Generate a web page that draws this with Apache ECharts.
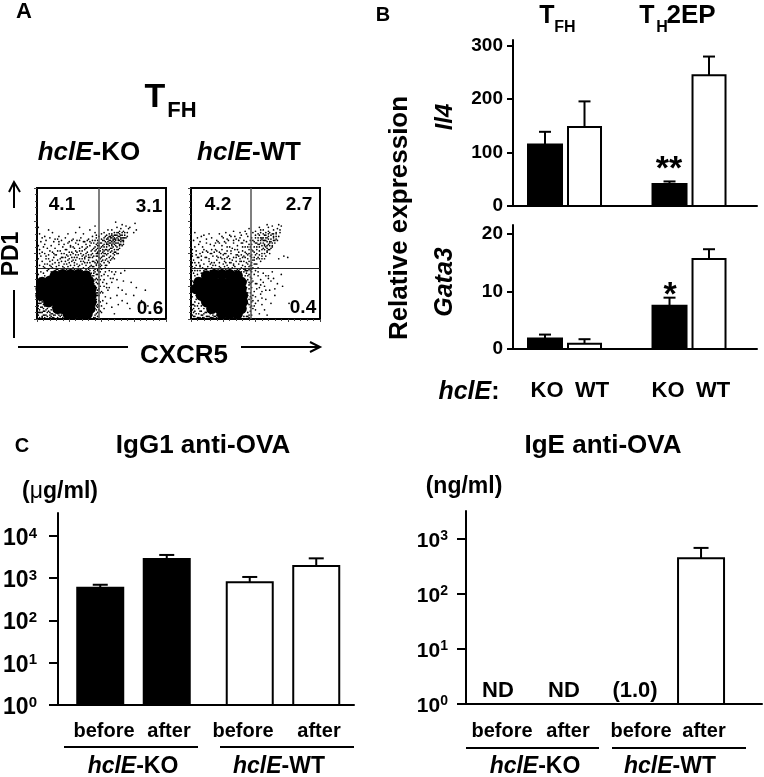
<!DOCTYPE html>
<html><head><meta charset="utf-8">
<style>html,body{margin:0;padding:0;background:#fff}#c{width:764px;height:777px}</style>
<script src="https://cdn.jsdelivr.net/npm/echarts@6/dist/echarts.min.js"></script>
</head><body><div id="c"></div>
<script>
// ---------- data ----------
const cellGroups = ['TFH', 'TH2EP'];
const genotypes = ['hclE-KO', 'hclE-WT'];
const il4KO = [115, 41], il4KOErr = [139, 46];
const il4WT = [148, 245], il4WTErr = [196, 280];
const gata3KO = [1.8, 7.5], gata3KOErr = [2.5, 8.9];
const gata3WT = [0.9, 15.6], gata3WTErr = [1.7, 17.3];
const igg1Before = [597, 800], igg1BeforeErr = [700, 1070];
const igg1After = [2850, 1950], igg1AfterErr = [3550, 2950];
const igeBeforeNotes = ['ND', '(1.0)'];
const igeAfterNotes = ['ND', null];
const igeAfter = [null, 441], igeAfterErr = [null, 677];
const il4Ticks = [0, 100, 200, 300];
const gata3Ticks = [0, 10, 20];
const igg1Ticks = [1, 10, 100, 1000, 10000];
const igeTicks = [1, 10, 100, 1000];
const koQuadrants = [47.7, 39], wtQuadrants = [46, 39];
const koPercents = ['4.1', '3.1', '0.6'], wtPercents = ['4.2', '2.7', '0.4'];

// flow plots: scale 0-100 on both channels (flat x,y lists). Core = solid event mass.
const koCore = [14,33,20,34,26,34,32,34,38,33, 4,28,10,29,16,29,22,29,28,29,34,29,40,29, 3,23,9,23,15,23,21,23,27,23,33,23,39,23,42,23, 3,18,9,18,15,18,21,18,27,18,33,18,39,18,42,18, 9,13,15,13,21,13,27,13,33,13,39,13,42,13, 16,8,20,8,26,8,32,8,38,8,41,8, 24,4,28,4,34,4,39,4];
const koDots = [
 1,3,2,7,3,12,1,15,4,2,5,6,6,10,7,3,8,8,9,13,10,5,11,2,12,9,13,6,14,3,15,11,16,1,17,5,3,17,5,14,7,16,2,22,1,27,2,31,1,34,3,36,5,35,6,33,8,37,
 1,10,2,14,4,9,6,1,8,5,10,1,12,4,14,8,16,4,18,2,20,1,21,4,23,1,4,5,9,10,11,7,7,12,13,1,19,3,1,20,1,24,3,28,2,5,6,6,5,3,
 42,3,44,6,43,10,45,13,44,17,46,20,43,22,45,25,44,29,46,31,43,33,45,36,47,34,42,35,40,36,38,35,36,36,33,36,30,36,27,37,24,36,21,37,18,36,14,37,11,36,
 46,4,47,9,48,14,47,18,48,23,47,27,49,30,46,10,45,3,42,7,41,1,38,2,36,1,44,1,47,2,49,6,48,18,49,25,50,33,49,36,51,28,50,21,44,33,45,8,46,15,47,22,48,32,
 2,41,5,40,8,42,11,40,14,43,17,41,20,40,23,42,26,41,29,43,32,40,35,42,38,41,41,43,44,40,46,42,4,44,7,46,10,44,13,47,16,45,19,47,22,44,25,46,28,45,31,47,34,44,37,46,40,45,43,47,46,45,
 3,48,6,50,9,49,12,51,15,49,18,52,21,50,24,48,27,51,30,49,33,52,36,49,39,51,42,49,45,52,47,48, 2,53,5,55,8,54,11,56,14,54,17,57,20,55,23,53,26,56,29,54,32,57,35,55,38,54,41,56,44,54,46,57,
 3,59,7,60,10,62,13,59,16,61,19,60,22,62,25,59,28,61,31,60,34,62,37,59,40,61,43,60,46,62, 2,65,6,63,12,66,17,63,24,65,30,66,36,65,41,68,45,66, 1,70,9,68,33,70,45,71,
 23,38,16,38,9,38,34,38,40,38,29,41,12,42,37,43,42,41,19,44,33,46,25,43,40,47,44,44,15,40,6,42,22,47,35,48,43,50,28,50,38,48,
 49,42,51,45,53,41,52,48,50,50,54,46,56,43,55,50,53,53,49,54,51,56,57,48,58,52,60,46,59,55,56,56,54,58,52,60,50,61,62,50,61,56,63,53,60,59,57,60,55,62,53,63,65,57,64,60,62,62,59,63,56,65,
 66,62,67,59,65,64,63,66,60,66,58,68,68,64,67,67,65,69,70,66,62,70,61,74,66,72,72,70,76,73,77,68,75,66,71,69,69,71,48,47,48,52,47,56,49,58,48,63,47,60,50,65,52,66,55,68,
 58,57,61,61,63,58,57,63,60,53,64,56,62,58,59,60,66,60,58,59,55,59,54,55,52,52,51,51,57,54,61,64,63,63,65,62,67,62,60,62,58,65,64,65,
 50,38,53,36,55,33,52,30,54,27,57,31,56,24,51,20,53,17,55,22,58,28,60,34,62,30,63,24,65,35,67,29,62,18,66,14,69,19,72,8,70,12,77,24,73,28,84,22,81,14,86,10,52,8,54,12,50,5,58,9,60,4,63,11,57,16,75,18,79,6,68,37,66,22,
 // second reading: denser zones
 8,37,12,39,17,37,21,39,26,38,31,37,36,39,41,37,45,38,10,41,15,38,19,37,24,40,28,39,33,41,38,38,43,40,47,37,6,39,13,36,22,36,29,38,35,37,40,39,44,37,
 17,43,21,42,27,44,31,42,36,44,41,40,45,43,24,45,30,45,35,46,39,43,43,44,47,43,12,45,18,46,23,49,27,47,32,49,37,47,41,47,46,48,9,46,14,49,20,47,26,49,
 30,52,34,50,38,50,42,52,44,48,47,51,29,47,33,54,37,53,40,49,43,53,46,50,22,53,25,51,28,55,31,51,35,52,39,55,42,58,45,55,47,54,19,50,16,52,13,50,10,52,7,48,
 24,58,27,60,33,60,38,57,41,59,44,58,47,58,46,64,43,63,39,60,36,59,30,58,26,55,21,57,17,59,14,61,6,57,4,51,1,46,2,50,1,56,4,62,
 48,41,50,44,52,43,54,41,49,46,51,48,53,45,55,44,57,45,59,47,48,50,50,47,52,50,54,49,56,47,58,46,60,49,49,52,51,53,53,50,55,52,57,51,59,50,61,51,63,50,
 50,55,52,55,54,53,56,53,58,54,60,51,62,53,64,54,48,56,50,58,52,57,54,57,56,58,58,56,60,57,62,55,64,57,66,56,51,60,53,59,55,57,57,58,59,58,61,58,63,60,65,59,
 67,57,55,61,57,62,59,61,61,60,63,61,65,61,67,60,69,62,52,62,54,61,56,63,58,62,60,61,62,64,64,63,66,64,68,62,70,63,54,64,56,60,58,64,60,64,62,66,64,67,66,66,68,66,
 47,44,49,40,46,41,48,39,50,41,53,39,47,50,46,53,45,60,
 45,1,46,7,47,5,44,9,45,11,46,13,47,11,44,15,45,18,46,18,44,23,47,20,46,24,44,27,45,30,47,30,46,28,43,28,42,31,44,35,41,33,46,34,48,36,47,38,48,10,49,13,48,27,49,20,
 2,1,4,1,6,3,8,2,10,3,12,1,3,5,5,8,7,7,9,6,11,4,13,3,15,5,17,3,19,5,1,5,3,9,1,8,5,11,7,10,2,12,1,12,4,13,6,13,
 52,34,56,37,58,36,59,31,54,24,52,25,61,36,51,14,48,7,50,10];
const wtCore = [12,33,18,34,24,34,30,34,36,33, 6,28,12,28,18,28,24,28,30,28,36,28,39,28, 4,23,10,23,16,23,22,23,28,23,34,23,39,23, 8,18,14,18,20,18,26,18,32,18,38,18,40,18, 12,13,18,13,24,13,30,13,36,13,40,13, 16,8,22,8,28,8,34,8,39,8, 24,4,30,4,36,4];
const wtDots = [
 1,3,2,8,3,13,1,17,4,4,5,10,6,1,7,6,8,14,9,3,10,8,11,12,12,2,13,6,14,10,15,4,16,8,17,1,18,5,19,2,3,20,5,18,7,22,2,25,1,29,4,31,2,35,5,34,6,29,8,35,
 1,11,3,6,4,15,6,8,8,3,10,1,11,5,13,2,15,1,17,3,20,1,22,4,24,1,26,1,9,17,5,24,1,37,3,37,7,37,10,37,
 43,2,44,5,42,8,45,11,43,14,46,17,44,20,42,23,45,26,43,29,46,32,41,31,43,35,39,36,37,37,34,37,31,37,28,37,25,37,22,37,19,37,15,37,
 47,3,48,8,47,13,48,18,47,24,48,29,49,34,46,6,45,1,41,2,45,23,44,33,47,36,46,27,49,21,50,27,50,12,41,36,
 1,40,4,41,7,40,10,42,13,40,16,43,19,41,22,40,25,42,28,41,31,43,34,40,37,42,40,41,43,43,45,40, 2,45,5,47,8,45,11,47,14,46,17,48,20,45,23,47,26,46,29,48,32,45,35,47,38,46,41,48,44,46,
 1,50,4,52,7,50,10,53,13,51,16,50,19,53,22,51,25,49,28,52,31,50,34,53,37,51,40,52,43,50,45,53, 3,55,6,57,9,55,12,58,18,56,21,59,24,56,27,58,30,55,33,58,36,56,39,58,42,55,45,57,
 2,60,5,62,8,63,12,61,16,62,20,60,24,63,28,61,31,63,35,61,38,62,41,60,44,63, 3,66,10,64,14,65,22,65,27,66,33,67,38,66,42,67,45,69,
 12,38,18,38,24,38,30,38,36,38,42,38,6,43,15,42,27,43,33,42,39,44,44,42,20,48,30,46,36,49,42,47,26,50,
 47,41,49,45,51,42,50,49,48,52,52,47,54,44,53,52,51,55,47,57,49,59,55,50,56,54,58,48,57,57,54,58,52,60,50,62,60,53,59,59,61,56,58,60,55,62,53,64,63,58,62,61,60,63,57,64,54,66,
 64,63,65,60,63,65,61,66,58,66,56,68,66,66,64,68,67,69,69,66,60,70,59,72,63,71,68,72,70,71,47,47,47,62,48,66,50,67,46,60,
 56,58,59,62,61,59,55,61,58,55,62,54,60,57,57,60,64,62,56,65,60,67,66,63,72,48,68,46,75,47,53,70,
 50,37,52,33,54,30,51,27,53,24,56,28,55,21,50,17,52,14,54,19,57,25,60,33,62,29,61,22,64,31,67,27,70,34,55,11,58,15,50,7,53,4,57,7,62,12,65,18,71,25,63,36,76,12,59,3,
 // second reading: denser zones
 5,37,9,39,13,36,16,39,20,37,23,39,27,38,32,39,35,37,39,39,43,37,45,38,7,41,11,38,17,41,21,38,26,40,29,39,33,41,38,38,42,40,44,37,3,39,14,44,18,43,22,43,26,44,30,43,35,44,38,44,41,44,45,44,
 8,48,12,47,21,47,24,46,28,47,33,47,37,48,40,47,44,49,46,48,6,47,15,50,18,51,23,50,27,50,31,52,35,49,39,49,42,51,45,50,4,49,9,51,12,52,16,53,20,52,24,53,28,55,32,54,36,53,40,55,44,55,
 15,57,19,58,22,58,26,59,29,60,33,60,37,60,40,58,43,59,46,55,25,62,30,64,34,63,39,64,43,65,7,59,1,43,1,48,1,53,3,43,
 47,43,49,42,51,46,53,46,55,46,57,50,59,51,47,49,49,47,51,50,53,49,55,48,57,46,59,52,61,50,47,53,49,51,51,53,53,55,55,53,57,53,59,54,61,53,63,55,49,55,51,58,53,57,55,56,57,56,59,56,61,58,63,56,
 65,58,67,60,48,60,50,58,52,57,54,60,56,60,58,62,60,61,62,59,64,60,66,61,52,62,54,62,56,62,58,64,60,65,62,64,64,65,66,65,68,63,69,68,50,64,52,65,54,68,48,45,50,42,46,41,47,38,48,39,52,39,
 44,2,45,3,46,9,47,10,44,12,45,15,47,16,44,18,46,20,43,24,45,28,47,28,44,30,47,31,42,33,45,34,43,37,46,37,41,38,42,37,
 2,2,3,2,5,1,7,1,8,6,9,1,12,5,14,2,16,1,18,2,20,3,2,5,6,4,10,4,3,10,1,7,2,11,6,12,8,10,4,18,6,16,1,22,3,25,2,28,3,33,
 52,36,56,35,58,33,60,31,65,23,54,26,51,23,55,16,49,10,48,14,58,22];

// ---------- helpers ----------
const SANS = '"Liberation Sans", Arial, sans-serif';
const bold = px => `bold ${px}px ${SANS}`;
const boldIt = px => `italic bold ${px}px ${SANS}`;
const text = (s, x, y, font, extra) => Object.assign({type:'text', x, y, silent:true,
  style:{text:s, font, fill:'#000', align:'center', verticalAlign:'middle'}}, extra||{});
const gene = (name, suffix, x, y, px) => ({type:'text', x, y, silent:true, style:{
  text:`{i|${name}}{n|${suffix}}`, align:'center', verticalAlign:'middle', fill:'#000',
  rich:{i:{font:boldIt(px), fill:'#000'}, n:{font:bold(px), fill:'#000'}}}});
const line = (pts, w) => ({type:'polyline', silent:true, shape:{points:pts}, style:{stroke:'#000', lineWidth:w||2, fill:null}});
const pairs = a => { const o = []; for (let i = 0; i < a.length; i += 2) o.push([a[i], a[i+1]]); return o; };

const grids = [], xAxes = [], yAxes = [], series = [];

function barPanel(cfg) {
  const idx = grids.length;
  grids.push({left:cfg.left, top:cfg.top, width:cfg.width, height:cfg.height, containLabel:false});
  xAxes.push({gridIndex:idx, type:'value', min:cfg.xMin, max:cfg.xMax, show:true, splitLine:{show:false},
    axisLabel:{show:false}, axisTick:{show:false}, axisLine:{show:true, onZero:false, lineStyle:{color:'#000', width:2}}});
  const y = {gridIndex:idx, type:cfg.log ? 'log' : 'value', min:cfg.yMin, max:cfg.yMax, splitLine:{show:false},
    axisLine:{show:true, onZero:false, lineStyle:{color:'#000', width:2}},
    axisTick:{show:true, length:cfg.tick, lineStyle:{color:'#000', width:2}, customValues:cfg.ticks},
    axisLabel:{show:true, customValues:cfg.ticks, margin:cfg.margin, color:'#000', fontWeight:'bold', fontSize:cfg.labelPx, fontFamily:SANS, showMinLabel:true, showMaxLabel:true}};
  if (cfg.log) {
    y.logBase = 10;
    y.axisLabel.formatter = v => `{b|10}{s|${Math.round(Math.log10(v))}}`;
    y.axisLabel.padding = [5, 0, 0, 0];
    y.axisLabel.rich = {b:{fontSize:cfg.labelPx, fontWeight:'bold', fontFamily:SANS, color:'#000'},
      s:{fontSize:cfg.supPx, fontWeight:'bold', fontFamily:SANS, color:'#000', verticalAlign:'top', padding:[0,0,10,0]}};
  }
  yAxes.push(y);
  return idx;
}
function bars(idx, name, groups, offset, barW, values, errs, fillOf, capW, notes, noteDy, notePx, base) {
  series.push({type:'custom', name, xAxisIndex:idx, yAxisIndex:idx, clip:false,
    data: groups.map((g, i) => [i, values[i], errs ? errs[i] : null]),
    encode:{x:0, y:1},
    renderItem:(p, api) => {
      const g = api.value(0), v = api.value(1), e = api.value(2);
      const cx = api.coord([g, base])[0] + offset;
      const y0 = api.coord([g, base])[1];
      const kids = [];
      const note = notes ? notes[g] : null;
      if (note) kids.push({type:'text', style:{text:note, x:cx, y:y0 + noteDy, font:bold(notePx), fill:'#000', align:'center', verticalAlign:'middle'}});
      if (v === v && v !== null && isFinite(v)) {
        const yv = api.coord([g, v])[1];
        if (e === e && isFinite(e)) {
          const ye = api.coord([g, e])[1];
          kids.push({type:'line', shape:{x1:cx, y1:yv, x2:cx, y2:ye}, style:{stroke:'#000', lineWidth:2}});
          kids.push({type:'line', shape:{x1:cx-capW/2, y1:ye, x2:cx+capW/2, y2:ye}, style:{stroke:'#000', lineWidth:2}});
        }
        kids.push({type:'rect', shape:{x:cx-barW/2, y:yv, width:barW, height:y0-yv},
          style:{fill:fillOf(g), stroke:'#000', lineWidth:2}});
      }
      return {type:'group', children:kids};
    }});
}
function flowPanel(left, top, core, dots, quad) {
  const idx = grids.length;
  grids.push({left, top, width:129, height:131, show:true, borderColor:'#000', borderWidth:2, backgroundColor:'transparent'});
  const ax = {gridIndex:idx, type:'value', min:0, max:100, interval:25, splitLine:{show:false}, axisLabel:{show:false},
    axisLine:{show:false}, axisTick:{show:true, length:3, lineStyle:{color:'#444', width:1}},
    minorTick:{show:true, splitNumber:5, length:2, lineStyle:{color:'#444', width:1}}};
  xAxes.push(Object.assign({}, ax)); yAxes.push(Object.assign({}, ax));
  series.push({type:'scatter', name:'core events', xAxisIndex:idx, yAxisIndex:idx, data:pairs(core), symbolSize:11, itemStyle:{color:'#000', opacity:1}, silent:true});
  series.push({type:'scatter', name:'events', xAxisIndex:idx, yAxisIndex:idx, data:pairs(dots), symbolSize:1.7, itemStyle:{color:'#000', opacity:1}, silent:true,
    markLine:{silent:true, symbol:'none', label:{show:false}, animation:false,
      data:[{xAxis:quad[0], lineStyle:{color:'#555', width:1.5, type:'solid'}}, {yAxis:quad[1], lineStyle:{color:'#222', width:1.2, type:'solid'}}]}});
}

// ---------- panels ----------
flowPanel(37, 188, koCore, koDots, koQuadrants);
flowPanel(191, 188, wtCore, wtDots, wtQuadrants);

const black = () => '#000', white = () => '#fff';
const byGroup = g => g === 0 ? '#000' : '#fff';

let p = barPanel({left:513, top:40, width:244, height:166, xMin:-0.4157, xMax:1.544, yMin:0, yMax:311, ticks:il4Ticks, tick:6, margin:10, labelPx:19});
bars(p, 'KO', cellGroups, -19.75, 34, il4KO, il4KOErr, black, 12, null, 0, 0, 0);
bars(p, 'WT', cellGroups, 19.75, 33, il4WT, il4WTErr, white, 12, null, 0, 0, 0);

p = barPanel({left:513, top:225, width:244, height:124, xMin:-0.4157, xMax:1.544, yMin:0, yMax:21.5, ticks:gata3Ticks, tick:6, margin:10, labelPx:19});
bars(p, 'KO', cellGroups, -19.75, 34, gata3KO, gata3KOErr, black, 12, null, 0, 0, 0);
bars(p, 'WT', cellGroups, 19.75, 33, gata3WT, gata3WTErr, white, 12, null, 0, 0, 0);

p = barPanel({left:58, top:513, width:296, height:192, xMin:-0.505, xMax:1.475, log:true, yMin:1, yMax:34900, ticks:igg1Ticks, tick:9, margin:21, labelPx:23, supPx:15});
bars(p, 'before', genotypes, -33.25, 46, igg1Before, igg1BeforeErr, byGroup, 15, null, 0, 0, 1);
bars(p, 'after', genotypes, 33.25, 46, igg1After, igg1AfterErr, byGroup, 15, null, 0, 0, 1);

p = barPanel({left:466, top:511, width:296, height:193, xMin:-0.478, xMax:1.682, log:true, yMin:1, yMax:3162, ticks:igeTicks, tick:9, margin:18, labelPx:21, supPx:14});
bars(p, 'before', genotypes, -33.5, 46, [null, null], null, byGroup, 15, igeBeforeNotes, -13, 22, 1);
bars(p, 'after', genotypes, 32.5, 46, igeAfter, igeAfterErr, white, 15, igeAfterNotes, -13, 22, 1);

// ---------- free text and annotation lines ----------
const graphic = [
  text('A', 24, 12, bold(22)), text('B', 383, 15, bold(20)), text('C', 22, 446, bold(20)),
  text('T', 155, 98, bold(34)), text('FH', 182, 111, bold(22)),
  gene('hclE', '-KO', 89, 153, 26), gene('hclE', '-WT', 249, 153, 26),
  text(koPercents[0], 62, 205, bold(19)), text(koPercents[1], 149, 207, bold(19)), text(koPercents[2], 150, 309, bold(19)),
  text(wtPercents[0], 218, 205, bold(19)), text(wtPercents[1], 299, 205, bold(19)), text(wtPercents[2], 303, 308, bold(19)),
  text('PD1', 12, 254, bold(23), {rotation:Math.PI/2}),
  text('CXCR5', 184, 356, bold(26)),
  line([[14,338],[14,290]]), line([[14,208],[14,182]]), line([[9,192],[14,182],[20,192]]),
  line([[18,347],[128,347]]), line([[241,347],[320,347]]), line([[310,342],[320,347],[310,352]]),

  text('T', 547, 16, bold(25)), text('FH', 565, 28, bold(16)),
  text('T', 647, 16, bold(25)), text('H', 662, 28, bold(16)), text('2EP', 691, 16, bold(26)),
  text('Relative expression', 400, 218, bold(26), {rotation:Math.PI/2}),
  text('Il4', 445, 117, boldIt(24), {rotation:Math.PI/2}),
  text('Gata3', 445, 282, boldIt(25), {rotation:Math.PI/2}),
  text('**', 669, 170, bold(34)), text('*', 670, 296, bold(34)),
  gene('hclE', ':', 469, 392, 25),
  text('KO', 547, 391, bold(22)), text('WT', 592, 391, bold(22)), text('KO', 668, 391, bold(22)), text('WT', 713, 391, bold(22)),

  text('IgG1 anti-OVA', 203, 446, bold(26)), text('IgE anti-OVA', 603, 446, bold(26)),
  {type:'text', x:60, y:492, silent:true, style:{text:'{a|(}{m|\u03bc}{a|g/ml)}', align:'center', verticalAlign:'middle',
    rich:{a:{font:bold(23), fill:'#000'}, m:{font:`${23}px ${SANS}`, fill:'#000'}}}},
  text('(ng/ml)', 464, 487, bold(23)),

  text('before', 104, 731, bold(20)), text('after', 169, 731, bold(20)), text('before', 243, 731, bold(20)), text('after', 319, 731, bold(20)),
  line([[64,747],[198,747]]), line([[220,747],[354,747]]),
  gene('hclE', '-KO', 133, 767, 23), gene('hclE', '-WT', 279, 767, 23),
  text('before', 502, 731, bold(20)), text('after', 568, 731, bold(20)), text('before', 641, 731, bold(20)), text('after', 704, 731, bold(20)),
  line([[466,748],[599,748]]), line([[612,748],[746,748]]),
  gene('hclE', '-KO', 535, 767, 23), gene('hclE', '-WT', 670, 767, 23)
];

const chart = echarts.init(document.getElementById('c'), null, {renderer:'canvas'});
chart.setOption({animation:false, backgroundColor:'#fff', tooltip:{show:false}, grid:grids, xAxis:xAxes, yAxis:yAxes, series, graphic});
</script></body></html>
